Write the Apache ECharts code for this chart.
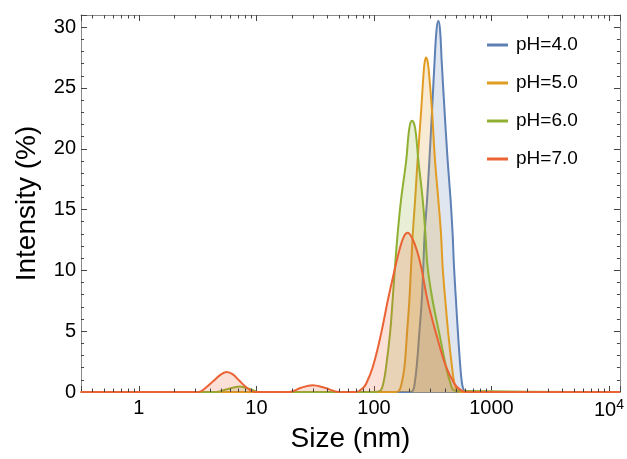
<!DOCTYPE html>
<html>
<head>
<meta charset="utf-8">
<script src="https://cdn.jsdelivr.net/npm/echarts@6/dist/echarts.min.js"></script>
<style>
html,body{margin:0;padding:0;background:#fff;}
#chart{width:627px;height:459px;}
</style>
</head>
<body>
<div id="chart"></div>
<script>
// ---- data ----
const seriesNames = ['pH=4.0', 'pH=5.0', 'pH=6.0', 'pH=7.0'];
const seriesColors = ['#5E81B5', '#E19C24', '#8FB032', '#EB6235'];

const ph4Size = [0.32, 200, 214, 222, 231, 243, 255, 263, 270, 283, 296, 312, 328, 341, 353, 365, 377, 399, 424, 449, 467, 480, 499, 519, 543, 560, 585, 630, 12400];
const ph4Int  = [0, 0, 0.1, 0.7, 2.1, 4.8, 7.5, 10.3, 13.0, 15.8, 19.0, 23.1, 27.2, 29.8, 30.5, 29.8, 27.2, 23.1, 19.0, 15.8, 13.0, 10.3, 7.5, 4.8, 2.1, 0.8, 0.1, 0, 0];

const ph5Size = [0.32, 150, 163, 172, 182, 191, 200, 207, 214, 224, 235, 252, 263, 270, 278, 287, 296, 312, 331, 353, 372, 384, 405, 429, 461, 482, 512, 560, 12400];
const ph5Int  = [0, 0, 0.1, 0.7, 2.1, 4.8, 7.5, 10.3, 13.0, 15.8, 19.0, 23.1, 25.9, 27.1, 27.5, 27.1, 25.9, 23.1, 19.0, 15.8, 13.0, 10.3, 7.5, 4.8, 2.1, 0.8, 0.1, 0, 0];

const ph6Size = [0.32, 4.5, 5.5, 7.2, 9, 10.5, 100, 113, 120, 127, 137, 144, 151, 159, 170, 188, 200, 211, 224, 239, 260, 274, 286, 316, 360, 410, 445, 490, 12400];
const ph6Int  = [0, 0, 0.2, 0.45, 0.2, 0, 0, 0.1, 0.7, 2.1, 4.8, 7.5, 10.3, 13.0, 15.8, 19.0, 21.7, 22.3, 21.7, 19.0, 15.8, 13.0, 10.3, 7.5, 4.8, 2.1, 0.8, 0.1, 0];

const ph7Size = [0.32, 3.2, 3.7, 4.3, 5.0, 5.6, 6.3, 7.2, 8.3, 9.7, 19, 24, 30, 38, 51, 70, 80, 86, 98, 115, 131, 152, 165, 180, 194, 210, 231, 252, 286, 338, 410, 483, 540, 620, 12400];
const ph7Int  = [0, 0, 0.35, 0.9, 1.45, 1.65, 1.45, 0.9, 0.35, 0, 0, 0.35, 0.55, 0.35, 0, 0, 0.3, 0.7, 2.1, 4.8, 7.5, 10.3, 11.7, 12.8, 13.1, 12.7, 11.7, 10.3, 7.5, 4.8, 2.1, 0.7, 0.2, 0, 0];

const xMajorLabels = {0: '1', 1: '10', 2: '100', 3: '1000', 4: '10{sup|4}'};
const yMajorLabels = [0, 5, 10, 15, 20, 25, 30];

// ---- chart ----
const X_MIN = 0.3214, X_MAX = 12390, Y_MIN = 0, Y_MAX = 31;
const FONT = 'Liberation Sans';
const frameColor = '#8a8a8a';
const tickColor = '#444';

function pairs(xs, ys) { return xs.map((x, i) => [x, ys[i]]); }
const allData = [pairs(ph4Size, ph4Int), pairs(ph5Size, ph5Int), pairs(ph6Size, ph6Int), pairs(ph7Size, ph7Int)];

const chart = echarts.init(document.getElementById('chart'), null, {renderer: 'canvas'});

function xAxisDef(pos, withLabels) {
  return {
    type: 'log', logBase: 10, min: X_MIN, max: X_MAX, position: pos,
    name: withLabels ? 'Size (nm)' : '', nameLocation: 'middle', nameGap: 33,
    nameTextStyle: {fontSize: 28, color: '#000', fontFamily: FONT},
    axisLine: {show: true, onZero: false, lineStyle: {color: frameColor, width: 1}},
    axisTick: {show: true, inside: true, length: 6, lineStyle: {color: tickColor, width: 1}},
    axisLabel: {
      show: withLabels, fontSize: 20, color: '#000', fontFamily: FONT, margin: 6,
      formatter: function (v) {
        const l = Math.log10(v), r = Math.round(l);
        if (Math.abs(l - r) > 1e-6) return '';
        return xMajorLabels[r] !== undefined ? xMajorLabels[r] : '';
      },
      rich: {sup: {fontSize: 14, color: '#000', fontFamily: FONT, padding: [0, 0, 10, 0]}}
    },
    splitLine: {show: false}, minorTick: {show: false}
  };
}
function yAxisDef(pos, interval, len, withLabels) {
  return {
    type: 'value', min: Y_MIN, max: Y_MAX, interval: interval, position: pos,
    name: withLabels ? 'Intensity (%)' : '', nameLocation: 'middle', nameGap: 40,
    nameTextStyle: {fontSize: 28, color: '#000', fontFamily: FONT},
    axisLine: {show: true, onZero: false, lineStyle: {color: frameColor, width: 1}},
    axisTick: {show: true, inside: true, length: len, lineStyle: {color: tickColor, width: 1}},
    axisLabel: {
      show: withLabels, fontSize: 20, color: '#000', fontFamily: FONT, margin: 5,
      formatter: function (v) { return yMajorLabels.indexOf(v) >= 0 ? String(v) : ''; }
    },
    splitLine: {show: false}
  };
}

const option = {
  animation: false,
  backgroundColor: '#fff',
  textStyle: {fontFamily: FONT},
  grid: {left: 81, right: 6, top: 15, bottom: 67, containLabel: false},
  legend: {
    orient: 'vertical', left: 482, top: 30, itemWidth: 21, itemHeight: 3, itemGap: 18,
    icon: 'rect',
    textStyle: {fontSize: 19, color: '#000', fontFamily: FONT, lineHeight: 20, padding: [0, 0, 0, 3]},
    data: seriesNames
  },
  xAxis: [xAxisDef('bottom', true), xAxisDef('top', false)],
  yAxis: [
    yAxisDef('left', 5, 6, true), yAxisDef('left', 1, 3, false),
    yAxisDef('right', 5, 6, false), yAxisDef('right', 1, 3, false)
  ],
  series: seriesNames.map((name, i) => ({
    name: name, type: 'line', xAxisIndex: 0, yAxisIndex: 0,
    data: allData[i], smooth: 0.4, showSymbol: false, symbol: 'none',
    color: seriesColors[i],
    lineStyle: {width: 2, color: seriesColors[i]},
    areaStyle: {color: seriesColors[i], opacity: 0.2},
    z: 2 + i
  }))
};
chart.setOption(option);

// minor log ticks at 2..9 x 10^n on bottom and top frame
const minorVals = [];
for (let n = -1; n <= 4; n++) {
  for (let k = 2; k <= 9; k++) {
    const v = k * Math.pow(10, n);
    if (v > X_MIN && v < X_MAX) minorVals.push(v);
  }
}
const yb = chart.convertToPixel({yAxisIndex: 0}, Y_MIN);
const yt = chart.convertToPixel({yAxisIndex: 0}, Y_MAX);
const gr = [];
minorVals.forEach(v => {
  const x = Math.round(chart.convertToPixel({xAxisIndex: 0}, v)) + 0.5;
  gr.push({type: 'line', silent: true, z: 10, shape: {x1: x, y1: yb, x2: x, y2: yb - 3.5}, style: {stroke: tickColor, lineWidth: 1}});
  gr.push({type: 'line', silent: true, z: 10, shape: {x1: x, y1: yt, x2: x, y2: yt + 3.5}, style: {stroke: tickColor, lineWidth: 1}});
});
chart.setOption({graphic: gr});
</script>
</body>
</html>
